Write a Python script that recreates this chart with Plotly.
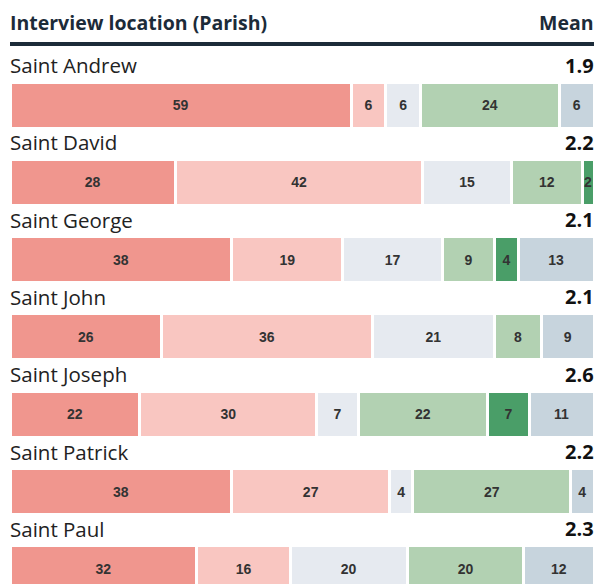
import plotly.graph_objects as go

parishes = ["Saint Andrew", "Saint David", "Saint George", "Saint John",
            "Saint Joseph", "Saint Patrick", "Saint Paul"]
means = ["1.9", "2.2", "2.1", "2.1", "2.6", "2.2", "2.3"]

series_names = ["Very bad", "Bad", "Neither", "Good", "Very good", "Don't know"]
very_bad  = [59, 28, 38, 26, 22, 38, 32]
bad       = [6, 42, 19, 36, 30, 27, 16]
neither   = [6, 15, 17, 21, 7, 4, 20]
good      = [24, 12, 9, 8, 22, 27, 20]
very_good = [0, 2, 4, 0, 7, 0, 0]
dont_know = [6, 0, 13, 9, 11, 4, 12]

colors = ["#f0968e", "#f9c6c1", "#e6eaf0", "#b2d1b2", "#4a9e68", "#c7d4dd"]

series = [very_bad, bad, neither, good, very_good, dont_know]
totals = [sum(s[i] for s in series) for i in range(len(parishes))]

W, H = 599, 584
ML, MR = 10, 5
row_pitch = 77.3
first_center = 105
bar_px = 46

LABEL_FONT = "Open Sans, sans-serif"

y_idx = list(range(len(parishes)))
y_top = -first_center / row_pitch
y_bot = (H - first_center) / row_pitch

fig = go.Figure()
for name, vals, col in zip(series_names, series, colors):
    widths = [v / t * 100 if v > 0 else None for v, t in zip(vals, totals)]
    texts = [str(v) if v > 0 else "" for v in vals]
    fig.add_trace(go.Bar(
        y=y_idx, x=widths, orientation="h", name=name,
        marker=dict(color=col, line=dict(color="white", width=3)),
        width=bar_px / row_pitch,
        text=texts, textposition="inside", insidetextanchor="middle",
        textangle=0,
        textfont=dict(family="Liberation Sans, Arial, sans-serif", size=14,
                      color="#333333", weight="bold"),
        hoverinfo="skip",
    ))

annotations = []
label_off = (65 - first_center) / row_pitch
for i, (p, m) in enumerate(zip(parishes, means)):
    annotations.append(dict(x=0, xref="paper", y=i + label_off, yref="y",
                            text=p, showarrow=False, xanchor="left", yanchor="middle",
                            xshift=-2,
                            font=dict(family=LABEL_FONT, size=20.5, color="#222222")))
    annotations.append(dict(x=1, xref="paper", y=i + label_off, yref="y",
                            text="<b>" + m + "</b>", showarrow=False, xanchor="right",
                            yanchor="middle", xshift=2,
                            font=dict(family=LABEL_FONT, size=20, color="#111111")))

annotations.append(dict(x=0, xref="paper", y=1 - 22 / H, yref="paper",
                        text="<b>Interview location (Parish)</b>", showarrow=False,
                        xanchor="left", yanchor="middle", xshift=-2,
                        font=dict(family=LABEL_FONT, size=19.5, color="#1c2b39")))
annotations.append(dict(x=1, xref="paper", y=1 - 22 / H, yref="paper",
                        text="<b>Mean</b>", showarrow=False,
                        xanchor="right", yanchor="middle", xshift=2,
                        font=dict(family=LABEL_FONT, size=19.5, color="#1c2b39")))

fig.update_layout(
    width=W, height=H,
    margin=dict(l=ML, r=MR, t=0, b=0),
    barmode="stack",
    showlegend=False,
    plot_bgcolor="white", paper_bgcolor="white",
    xaxis=dict(range=[0, 100], visible=False, fixedrange=True),
    yaxis=dict(range=[y_bot, y_top], visible=False, fixedrange=True),
    annotations=annotations,
    uniformtext=dict(minsize=14, mode="show"),
    shapes=[dict(type="line", xref="paper", yref="paper", x0=0, x1=1,
                 y0=1 - 44 / H, y1=1 - 44 / H,
                 line=dict(color="#1c2b39", width=4))],
)

fig.write_html("out.html", config={"displayModeBar": False},
               post_script="document.body.style.margin='0';")
